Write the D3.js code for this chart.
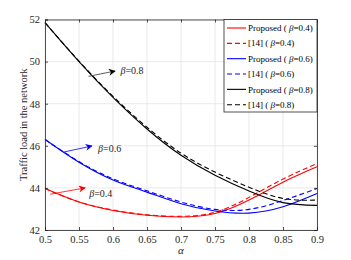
<!DOCTYPE html>
<html><head><meta charset="utf-8">
<script src="https://cdn.jsdelivr.net/npm/d3@7"></script>
<style>body{margin:0;background:#fff}svg{display:block}</style>
</head><body>
<script>
const alphas = [0.5,0.55,0.6,0.65,0.7,0.75,0.8,0.85,0.9];
const prop08 = [51.85,50.0,48.3,46.8,45.55,44.6,43.85,43.3,43.17];
const ref08  = [51.85,50.02,48.35,46.88,45.65,44.75,44.03,43.5,43.42];
const prop06 = [46.3,45.22,44.38,43.8,43.25,42.9,42.8,43.1,43.73];
const ref06  = [46.3,45.25,44.43,43.86,43.33,42.98,42.98,43.4,43.97];
const prop04 = [43.97,43.33,42.93,42.7,42.62,42.78,43.42,44.27,45.0];
const ref04  = [43.97,43.33,42.95,42.72,42.65,42.84,43.55,44.42,45.16];
const xTicks = [0.5,0.55,0.6,0.65,0.7,0.75,0.8,0.85,0.9];
const yTicks = [42,44,46,48,50,52];
const seriesNames = ["Proposed (","[14] (","Proposed (","[14] (","Proposed (","[14] ("];
const betas = ["0.4","0.4","0.6","0.6","0.8","0.8"];

const W=351,H=260, L=45, R=317, T=19.5, B=230;
const svg=d3.select("body").append("svg").attr("width",W).attr("height",H);
const x=d3.scaleLinear().domain([0.5,0.9]).range([L,R]);
const y=d3.scaleLinear().domain([42,52]).range([B,T]);
const font="Liberation Serif, Times New Roman, serif";

// grid
svg.append("g").selectAll("line").data(xTicks).join("line")
  .attr("x1",d=>x(d)).attr("x2",d=>x(d)).attr("y1",T).attr("y2",B)
  .attr("stroke","#e3e3e3").attr("stroke-width",0.8);
svg.append("g").selectAll("line").data(yTicks).join("line")
  .attr("y1",d=>y(d)).attr("y2",d=>y(d)).attr("x1",L).attr("x2",R)
  .attr("stroke","#e3e3e3").attr("stroke-width",0.8);

// series
const series=[
  {v:prop04,c:"#ff0000",d:null},{v:ref04,c:"#ff0000",d:"5,3"},
  {v:prop06,c:"#0000ff",d:null},{v:ref06,c:"#0000ff",d:"5,3"},
  {v:prop08,c:"#000000",d:null},{v:ref08,c:"#000000",d:"5,3"}];
const line=d3.line().x((d,i)=>x(alphas[i])).y(d=>y(d)).curve(d3.curveNatural);
series.forEach(s=>{
  svg.append("path").attr("d",line(s.v)).attr("fill","none")
    .attr("stroke",s.c).attr("stroke-width",1.1)
    .attr("stroke-dasharray",s.d);
});

// axes
const ax=svg.append("g").attr("transform",`translate(0,${B})`)
  .call(d3.axisBottom(x).tickValues(xTicks).tickFormat(d3.format("")).tickSize(-3).tickPadding(6));
const ay=svg.append("g").attr("transform",`translate(${L},0)`)
  .call(d3.axisLeft(y).tickValues(yTicks).tickSize(-3).tickPadding(5));
const at=svg.append("g").attr("transform",`translate(0,${T})`)
  .call(d3.axisTop(x).tickValues(xTicks).tickFormat("").tickSize(-3));
const ar=svg.append("g").attr("transform",`translate(${R},0)`)
  .call(d3.axisRight(y).tickValues(yTicks).tickFormat("").tickSize(-3));
[ax,ay,at,ar].forEach(g=>{
  g.selectAll("path,line").attr("stroke","#262626").attr("stroke-width",0.8);
  g.selectAll("text").attr("font-family",font).attr("font-size",10.5).attr("fill","#262626");
});

// axis labels
svg.append("text").attr("x",x(0.7)).attr("y",254).attr("text-anchor","middle")
  .attr("font-family",font).attr("font-size",11).attr("font-style","italic").attr("fill","#262626").text("α");
svg.append("text").attr("transform",`translate(23,${(T+B)/2}) rotate(-90)`).attr("text-anchor","middle")
  .attr("dy","0.35em").attr("font-family",font).attr("font-size",10.5).attr("fill","#262626")
  .text("Traffic load in the network");

// annotations with arrows
const defs=svg.append("defs");
const ann=[
  {x1:0.5075,y1:43.7,x2:0.559,y2:44.0,c:"#ff0000",lab:"0.4",tx:0.565,ty:43.75},
  {x1:0.527,y1:45.7,x2:0.569,y2:45.99,c:"#0000ff",lab:"0.6",tx:0.578,ty:45.85},
  {x1:0.564,y1:49.3,x2:0.603,y2:49.55,c:"#000000",lab:"0.8",tx:0.611,ty:49.6}];
ann.forEach((a,i)=>{
  defs.append("marker").attr("id","ar"+i).attr("viewBox","0 0 10 10").attr("refX",9).attr("refY",5)
    .attr("markerWidth",9).attr("markerHeight",7).attr("markerUnits","userSpaceOnUse").attr("orient","auto")
    .append("path").attr("d","M0,0L10,5L0,10L3,5Z").attr("fill",a.c);
  svg.append("line").attr("x1",x(a.x1)).attr("y1",y(a.y1)).attr("x2",x(a.x2)).attr("y2",y(a.y2))
    .attr("stroke",a.c==="#000000"?"#333":a.c).attr("stroke-width",0.8).attr("marker-end",`url(#ar${i})`);
  const t=svg.append("text").attr("x",x(a.tx)).attr("y",y(a.ty)).attr("dy","0.35em")
    .attr("font-family",font).attr("font-size",10).attr("fill","#262626");
  t.append("tspan").attr("font-style","italic").text("β");
  t.append("tspan").text("="+a.lab);
});

// legend
const lg=svg.append("g");
lg.append("rect").attr("x",224).attr("y",T).attr("width",R-224).attr("height",112-T)
  .attr("fill","#fff").attr("stroke","#262626").attr("stroke-width",0.8);
const ly=d3.scaleLinear().domain([0,5]).range([28,104.7]);
series.forEach((s,i)=>{
  lg.append("line").attr("x1",227).attr("x2",246).attr("y1",ly(i)).attr("y2",ly(i))
    .attr("stroke",s.c).attr("stroke-width",1.1).attr("stroke-dasharray",s.d);
  const t=lg.append("text").attr("x",248).attr("y",ly(i)).attr("dy","0.35em")
    .attr("font-family",font).attr("font-size",9).attr("fill","#000");
  t.append("tspan").text(seriesNames[i]+" ");
  t.append("tspan").attr("font-style","italic").text("β");
  t.append("tspan").text("="+betas[i]+")");
});
</script>
</body></html>
